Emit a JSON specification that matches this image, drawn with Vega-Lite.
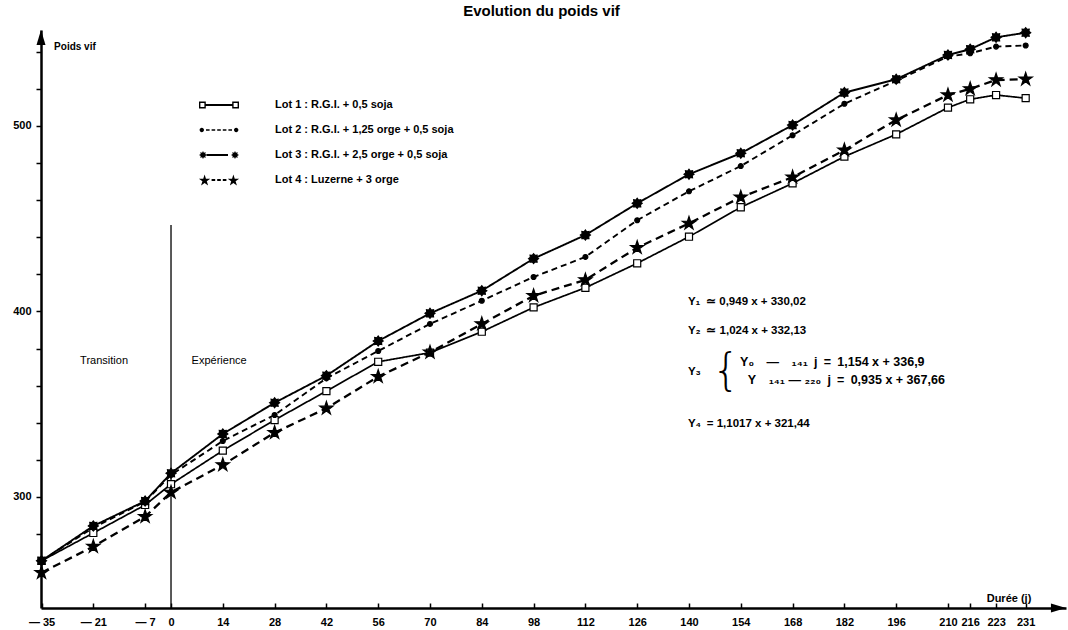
{
  "$schema": "https://vega.github.io/schema/vega-lite/v6.json",
  "autosize": {"type": "none"},
  "width": 1025,
  "height": 578,
  "padding": {"left": 41, "top": 30, "right": 2, "bottom": 22},
  "background": "white",
  "title": {
    "text": "Evolution du poids vif",
    "font": "Liberation Sans",
    "fontSize": 15,
    "fontWeight": "bold",
    "color": "black",
    "anchor": "middle",
    "dx": -12,
    "offset": 6
  },
  "config": {
    "view": {"stroke": null},
    "font": "Liberation Sans"
  },
  "datasets": {
    "poids": [
      {"lot": "Lot 1 : R.G.I. + 0,5 soja", "jour": -35, "poids": 265.6},
      {"lot": "Lot 1 : R.G.I. + 0,5 soja", "jour": -21, "poids": 280.6},
      {"lot": "Lot 1 : R.G.I. + 0,5 soja", "jour": -7, "poids": 295.7},
      {"lot": "Lot 1 : R.G.I. + 0,5 soja", "jour": 0, "poids": 306.9},
      {"lot": "Lot 1 : R.G.I. + 0,5 soja", "jour": 14, "poids": 325.0},
      {"lot": "Lot 1 : R.G.I. + 0,5 soja", "jour": 28, "poids": 341.5},
      {"lot": "Lot 1 : R.G.I. + 0,5 soja", "jour": 42, "poids": 357.1},
      {"lot": "Lot 1 : R.G.I. + 0,5 soja", "jour": 56, "poids": 372.9},
      {"lot": "Lot 1 : R.G.I. + 0,5 soja", "jour": 70, "poids": 377.8},
      {"lot": "Lot 1 : R.G.I. + 0,5 soja", "jour": 84, "poids": 389.1},
      {"lot": "Lot 1 : R.G.I. + 0,5 soja", "jour": 98, "poids": 402.2},
      {"lot": "Lot 1 : R.G.I. + 0,5 soja", "jour": 112, "poids": 412.8},
      {"lot": "Lot 1 : R.G.I. + 0,5 soja", "jour": 126, "poids": 426.0},
      {"lot": "Lot 1 : R.G.I. + 0,5 soja", "jour": 140, "poids": 440.3},
      {"lot": "Lot 1 : R.G.I. + 0,5 soja", "jour": 154, "poids": 456.2},
      {"lot": "Lot 1 : R.G.I. + 0,5 soja", "jour": 168, "poids": 469.1},
      {"lot": "Lot 1 : R.G.I. + 0,5 soja", "jour": 182, "poids": 483.5},
      {"lot": "Lot 1 : R.G.I. + 0,5 soja", "jour": 196, "poids": 495.5},
      {"lot": "Lot 1 : R.G.I. + 0,5 soja", "jour": 210, "poids": 509.9},
      {"lot": "Lot 1 : R.G.I. + 0,5 soja", "jour": 216, "poids": 514.4},
      {"lot": "Lot 1 : R.G.I. + 0,5 soja", "jour": 223, "poids": 516.7},
      {"lot": "Lot 1 : R.G.I. + 0,5 soja", "jour": 231, "poids": 515.0},
      {"lot": "Lot 2 : R.G.I. + 1,25 orge + 0,5 soja", "jour": -35, "poids": 265.6},
      {"lot": "Lot 2 : R.G.I. + 1,25 orge + 0,5 soja", "jour": -21, "poids": 283.5},
      {"lot": "Lot 2 : R.G.I. + 1,25 orge + 0,5 soja", "jour": -7, "poids": 297.5},
      {"lot": "Lot 2 : R.G.I. + 1,25 orge + 0,5 soja", "jour": 0, "poids": 311.9},
      {"lot": "Lot 2 : R.G.I. + 1,25 orge + 0,5 soja", "jour": 14, "poids": 330.2},
      {"lot": "Lot 2 : R.G.I. + 1,25 orge + 0,5 soja", "jour": 28, "poids": 344.2},
      {"lot": "Lot 2 : R.G.I. + 1,25 orge + 0,5 soja", "jour": 42, "poids": 364.0},
      {"lot": "Lot 2 : R.G.I. + 1,25 orge + 0,5 soja", "jour": 56, "poids": 378.7},
      {"lot": "Lot 2 : R.G.I. + 1,25 orge + 0,5 soja", "jour": 70, "poids": 393.3},
      {"lot": "Lot 2 : R.G.I. + 1,25 orge + 0,5 soja", "jour": 84, "poids": 405.8},
      {"lot": "Lot 2 : R.G.I. + 1,25 orge + 0,5 soja", "jour": 98, "poids": 418.6},
      {"lot": "Lot 2 : R.G.I. + 1,25 orge + 0,5 soja", "jour": 112, "poids": 429.4},
      {"lot": "Lot 2 : R.G.I. + 1,25 orge + 0,5 soja", "jour": 126, "poids": 449.2},
      {"lot": "Lot 2 : R.G.I. + 1,25 orge + 0,5 soja", "jour": 140, "poids": 464.8},
      {"lot": "Lot 2 : R.G.I. + 1,25 orge + 0,5 soja", "jour": 154, "poids": 478.4},
      {"lot": "Lot 2 : R.G.I. + 1,25 orge + 0,5 soja", "jour": 168, "poids": 495.0},
      {"lot": "Lot 2 : R.G.I. + 1,25 orge + 0,5 soja", "jour": 182, "poids": 512.0},
      {"lot": "Lot 2 : R.G.I. + 1,25 orge + 0,5 soja", "jour": 196, "poids": 524.4},
      {"lot": "Lot 2 : R.G.I. + 1,25 orge + 0,5 soja", "jour": 210, "poids": 537.4},
      {"lot": "Lot 2 : R.G.I. + 1,25 orge + 0,5 soja", "jour": 216, "poids": 539.2},
      {"lot": "Lot 2 : R.G.I. + 1,25 orge + 0,5 soja", "jour": 223, "poids": 542.8},
      {"lot": "Lot 2 : R.G.I. + 1,25 orge + 0,5 soja", "jour": 231, "poids": 543.4},
      {"lot": "Lot 3 : R.G.I. + 2,5 orge + 0,5 soja", "jour": -35, "poids": 265.6},
      {"lot": "Lot 3 : R.G.I. + 2,5 orge + 0,5 soja", "jour": -21, "poids": 284.4},
      {"lot": "Lot 3 : R.G.I. + 2,5 orge + 0,5 soja", "jour": -7, "poids": 297.8},
      {"lot": "Lot 3 : R.G.I. + 2,5 orge + 0,5 soja", "jour": 0, "poids": 312.8},
      {"lot": "Lot 3 : R.G.I. + 2,5 orge + 0,5 soja", "jour": 14, "poids": 334.0},
      {"lot": "Lot 3 : R.G.I. + 2,5 orge + 0,5 soja", "jour": 28, "poids": 350.8},
      {"lot": "Lot 3 : R.G.I. + 2,5 orge + 0,5 soja", "jour": 42, "poids": 365.4},
      {"lot": "Lot 3 : R.G.I. + 2,5 orge + 0,5 soja", "jour": 56, "poids": 384.1},
      {"lot": "Lot 3 : R.G.I. + 2,5 orge + 0,5 soja", "jour": 70, "poids": 399.0},
      {"lot": "Lot 3 : R.G.I. + 2,5 orge + 0,5 soja", "jour": 84, "poids": 411.2},
      {"lot": "Lot 3 : R.G.I. + 2,5 orge + 0,5 soja", "jour": 98, "poids": 428.5},
      {"lot": "Lot 3 : R.G.I. + 2,5 orge + 0,5 soja", "jour": 112, "poids": 441.2},
      {"lot": "Lot 3 : R.G.I. + 2,5 orge + 0,5 soja", "jour": 126, "poids": 458.3},
      {"lot": "Lot 3 : R.G.I. + 2,5 orge + 0,5 soja", "jour": 140, "poids": 474.0},
      {"lot": "Lot 3 : R.G.I. + 2,5 orge + 0,5 soja", "jour": 154, "poids": 485.3},
      {"lot": "Lot 3 : R.G.I. + 2,5 orge + 0,5 soja", "jour": 168, "poids": 500.5},
      {"lot": "Lot 3 : R.G.I. + 2,5 orge + 0,5 soja", "jour": 182, "poids": 518.0},
      {"lot": "Lot 3 : R.G.I. + 2,5 orge + 0,5 soja", "jour": 196, "poids": 525.2},
      {"lot": "Lot 3 : R.G.I. + 2,5 orge + 0,5 soja", "jour": 210, "poids": 538.3},
      {"lot": "Lot 3 : R.G.I. + 2,5 orge + 0,5 soja", "jour": 216, "poids": 541.4},
      {"lot": "Lot 3 : R.G.I. + 2,5 orge + 0,5 soja", "jour": 223, "poids": 547.8},
      {"lot": "Lot 3 : R.G.I. + 2,5 orge + 0,5 soja", "jour": 231, "poids": 550.3},
      {"lot": "Lot 4 : Luzerne + 3 orge", "jour": -35, "poids": 259.2},
      {"lot": "Lot 4 : Luzerne + 3 orge", "jour": -21, "poids": 273.3},
      {"lot": "Lot 4 : Luzerne + 3 orge", "jour": -7, "poids": 289.4},
      {"lot": "Lot 4 : Luzerne + 3 orge", "jour": 0, "poids": 302.5},
      {"lot": "Lot 4 : Luzerne + 3 orge", "jour": 14, "poids": 317.3},
      {"lot": "Lot 4 : Luzerne + 3 orge", "jour": 28, "poids": 334.7},
      {"lot": "Lot 4 : Luzerne + 3 orge", "jour": 42, "poids": 347.8},
      {"lot": "Lot 4 : Luzerne + 3 orge", "jour": 56, "poids": 364.9},
      {"lot": "Lot 4 : Luzerne + 3 orge", "jour": 70, "poids": 378.0},
      {"lot": "Lot 4 : Luzerne + 3 orge", "jour": 84, "poids": 393.3},
      {"lot": "Lot 4 : Luzerne + 3 orge", "jour": 98, "poids": 408.5},
      {"lot": "Lot 4 : Luzerne + 3 orge", "jour": 112, "poids": 417.0},
      {"lot": "Lot 4 : Luzerne + 3 orge", "jour": 126, "poids": 434.4},
      {"lot": "Lot 4 : Luzerne + 3 orge", "jour": 140, "poids": 447.5},
      {"lot": "Lot 4 : Luzerne + 3 orge", "jour": 154, "poids": 461.6},
      {"lot": "Lot 4 : Luzerne + 3 orge", "jour": 168, "poids": 472.4},
      {"lot": "Lot 4 : Luzerne + 3 orge", "jour": 182, "poids": 487.0},
      {"lot": "Lot 4 : Luzerne + 3 orge", "jour": 196, "poids": 503.2},
      {"lot": "Lot 4 : Luzerne + 3 orge", "jour": 210, "poids": 516.7},
      {"lot": "Lot 4 : Luzerne + 3 orge", "jour": 216, "poids": 520.0},
      {"lot": "Lot 4 : Luzerne + 3 orge", "jour": 223, "poids": 524.8},
      {"lot": "Lot 4 : Luzerne + 3 orge", "jour": 231, "poids": 525.2}
    ],
    "separation": [
      {"jour": 0, "poids": 240.16, "haut": 446.6}
    ],
    "fleche_y": [
      {"jour": -35.14, "poids": 547.7}
    ],
    "fleche_x": [
      {"jour": 239.86, "poids": 240.16}
    ],
    "equations": [
      {"jour": 139.7, "poids": 405.1, "texte": "Y₁\u2002≃ 0,949 x + 330,02"},
      {"jour": 139.7, "poids": 389.5, "texte": "Y₂\u2002≃ 1,024 x + 332,13"},
      {"jour": 139.7, "poids": 367.4, "texte": "Y₃"},
      {"jour": 139.7, "poids": 339.4, "texte": "Y₄\u2002= 1,1017 x + 321,44"}
    ],
    "equations_y3": [
      {"jour": 153.8, "poids": 372.8, "texte": "Y₀\u2003—\u2003₁₄₁\u2002j\u2002=\u20021,154 x + 336,9"},
      {"jour": 155.9, "poids": 363.1, "texte": "Y\u2003₁₄₁ — ₂₂₀\u2002j\u2002=\u20020,935 x + 367,66"}
    ],
    "accolade": [
      {"jour": 150.0, "poids": 367.6, "texte": "{"}
    ],
    "phases": [
      {"jour": -18.1, "poids": 373.3, "texte": "Transition"},
      {"jour": 13.0, "poids": 373.3, "texte": "Expérience"}
    ],
    "titre_y": [
      {"jour": -31.6, "poids": 542.6, "texte": "Poids vif"}
    ],
    "titre_x": [
      {"jour": 226.5, "poids": 245.0, "texte": "Durée (j)"}
    ]
  },
  "layer": [
    {
      "data": {"name": "poids"},
      "mark": {"type": "line", "color": "black"},
      "encoding": {
        "x": {
          "field": "jour",
          "type": "quantitative",
          "scale": {"domain": [-35.14, 241.9], "nice": false, "zero": false},
          "axis": {
            "title": null,
            "grid": false,
            "values": [-35, -21, -7, 0, 14, 28, 42, 56, 70, 84, 98, 112, 126, 140, 154, 168, 182, 196, 210, 216, 223, 231],
            "labelExpr": "datum.value < 0 ? '— ' + (-datum.value) : datum.label",
            "domainColor": "black",
            "domainWidth": 2.5,
            "tickColor": "black",
            "tickWidth": 1.5,
            "tickSize": -5,
            "labelPadding": 13,
            "labelColor": "black",
            "labelFont": "Liberation Sans",
            "labelFontWeight": "bold",
            "labelFontSize": 11,
            "labelOverlap": false,
            "labelFlush": false,
            "labelBound": false
          }
        },
        "y": {
          "field": "poids",
          "type": "quantitative",
          "scale": {"domain": [240.16, 551.75], "nice": false, "zero": false},
          "axis": {
            "title": null,
            "grid": false,
            "values": [260, 280, 300, 320, 340, 360, 380, 400, 420, 440, 460, 480, 500, 520, 540],
            "labelExpr": "datum.value % 100 === 0 ? datum.label : ''",
            "domainColor": "black",
            "domainWidth": 2.5,
            "tickColor": "black",
            "tickWidth": 1.5,
            "tickSize": 5,
            "labelPadding": 5,
            "labelColor": "black",
            "labelFont": "Liberation Sans",
            "labelFontWeight": "bold",
            "labelFontSize": 11
          }
        },
        "strokeDash": {
          "field": "lot",
          "type": "nominal",
          "scale": {"range": [[1, 0], [6, 4], [1, 0], [8, 5]]},
          "legend": null
        },
        "strokeWidth": {
          "field": "lot",
          "type": "nominal",
          "scale": {"type": "ordinal", "range": [1.7, 1.9, 1.9, 2.3]},
          "legend": null
        }
      }
    },
    {
      "data": {"name": "separation"},
      "mark": {"type": "rule", "color": "black", "strokeWidth": 1.3},
      "encoding": {
        "x": {"field": "jour", "type": "quantitative"},
        "y": {"field": "poids", "type": "quantitative"},
        "y2": {"field": "haut"}
      }
    },
    {
      "data": {"name": "poids"},
      "mark": {"type": "point", "filled": true, "stroke": "black", "strokeWidth": 1.2, "opacity": 1},
      "encoding": {
        "x": {"field": "jour", "type": "quantitative"},
        "y": {"field": "poids", "type": "quantitative"},
        "shape": {
          "field": "lot",
          "type": "nominal",
          "scale": {"range": [
            "square",
            "circle",
            "M1,0L0.647,0.268L0.707,0.707L0.268,0.647L0,1L-0.268,0.647L-0.707,0.707L-0.647,0.268L-1,0L-0.647,-0.268L-0.707,-0.707L-0.268,-0.647L0,-1L0.268,-0.647L0.707,-0.707L0.647,-0.268Z",
            "M0,-1L0.2245,-0.309L0.9511,-0.309L0.3633,0.118L0.5878,0.809L0,0.382L-0.5878,0.809L-0.3633,0.118L-0.9511,-0.309L-0.2245,-0.309Z"
          ]},
          "legend": null
        },
        "size": {
          "field": "lot",
          "type": "nominal",
          "scale": {"type": "ordinal", "range": [50, 24, 100, 190]},
          "legend": null
        },
        "fill": {
          "field": "lot",
          "type": "nominal",
          "scale": {"range": ["white", "black", "black", "black"]},
          "legend": null
        }
      }
    },
    {
      "data": {"name": "poids"},
      "mark": {"type": "point", "filled": true, "color": "black", "opacity": 0},
      "encoding": {
        "x": {"field": "jour", "type": "quantitative"},
        "y": {"field": "poids", "type": "quantitative"},
        "shape": {
          "field": "lot",
          "type": "nominal",
          "scale": {"range": [
            "M-1,-0.17H-0.66V0.17H-1Z M-0.93,-0.1V0.1H-0.73V-0.1Z M-0.66,-0.045H0.66V0.045H-0.66Z M0.66,-0.17H1V0.17H0.66Z M0.73,-0.1V0.1H0.93V-0.1Z",
            "M-0.97,0A0.11,0.11 0 1,0 -0.75,0A0.11,0.11 0 1,0 -0.97,0Z M0.75,0A0.11,0.11 0 1,0 0.97,0A0.11,0.11 0 1,0 0.75,0Z M-0.65,-0.04H-0.47V0.04H-0.65Z M-0.37,-0.04H-0.19V0.04H-0.37Z M-0.09,-0.04H0.09V0.04H-0.09Z M0.19,-0.04H0.37V0.04H0.19Z M0.47,-0.04H0.65V0.04H0.47Z",
            "M-0.6,0L-0.6891,0.0459L-0.6586,0.1414L-0.7541,0.1109L-0.8,0.2L-0.8459,0.1109L-0.9414,0.1414L-0.9109,0.0459L-1,0L-0.9109,-0.0459L-0.9414,-0.1414L-0.8459,-0.1109L-0.8,-0.2L-0.7541,-0.1109L-0.6586,-0.1414L-0.6891,-0.0459Z M-0.62,-0.045H0.45V0.045H-0.62Z M1,0L0.9109,0.0459L0.9414,0.1414L0.8459,0.1109L0.8,0.2L0.7541,0.1109L0.6586,0.1414L0.6891,0.0459L0.6,0L0.6891,-0.0459L0.6586,-0.1414L0.7541,-0.1109L0.8,-0.2L0.8459,-0.1109L0.9414,-0.1414L0.9109,-0.0459Z",
            "M-0.72,-0.27L-0.6526,-0.0627L-0.4347,-0.0627L-0.611,0.0654L-0.5437,0.2727L-0.72,0.1446L-0.8963,0.2727L-0.829,0.0654L-1.0053,-0.0627L-0.7874,-0.0627Z M-0.37,-0.045H-0.19V0.045H-0.37Z M-0.09,-0.045H0.09V0.045H-0.09Z M0.19,-0.045H0.37V0.045H0.19Z M0.72,-0.27L0.7874,-0.0627L1.0053,-0.0627L0.829,0.0654L0.8963,0.2727L0.72,0.1446L0.5437,0.2727L0.611,0.0654L0.4347,-0.0627L0.6526,-0.0627Z"
          ]},
          "legend": {
            "title": null,
            "orient": "none",
            "legendX": 158,
            "legendY": 55,
            "padding": 0,
            "symbolSize": 1600,
            "symbolOpacity": 1,
            "symbolFillColor": "black",
            "symbolStrokeWidth": 0,
            "labelOffset": 36,
            "labelFont": "Liberation Sans",
            "labelFontSize": 11,
            "labelFontWeight": "bold",
            "labelColor": "black",
            "labelLimit": 0,
            "rowPadding": -4.5
          }
        }
      }
    },
    {
      "data": {"name": "equations"},
      "mark": {"type": "text", "align": "left", "baseline": "middle", "font": "Liberation Sans", "fontSize": 11.5, "fontWeight": "bold", "color": "black"},
      "encoding": {
        "x": {"field": "jour", "type": "quantitative"},
        "y": {"field": "poids", "type": "quantitative"},
        "text": {"field": "texte"}
      }
    },
    {
      "data": {"name": "equations_y3"},
      "mark": {"type": "text", "align": "left", "baseline": "middle", "font": "Liberation Sans", "fontSize": 12.5, "fontWeight": "bold", "color": "black"},
      "encoding": {
        "x": {"field": "jour", "type": "quantitative"},
        "y": {"field": "poids", "type": "quantitative"},
        "text": {"field": "texte"}
      }
    },
    {
      "data": {"name": "accolade"},
      "mark": {"type": "text", "align": "center", "baseline": "middle", "font": "DejaVu Sans", "fontSize": 44, "fontWeight": 200, "color": "black"},
      "encoding": {
        "x": {"field": "jour", "type": "quantitative"},
        "y": {"field": "poids", "type": "quantitative"},
        "text": {"field": "texte"}
      }
    },
    {
      "data": {"name": "phases"},
      "mark": {"type": "text", "align": "center", "baseline": "middle", "font": "Liberation Sans", "fontSize": 11, "color": "black"},
      "encoding": {
        "x": {"field": "jour", "type": "quantitative"},
        "y": {"field": "poids", "type": "quantitative"},
        "text": {"field": "texte"}
      }
    },
    {
      "data": {"name": "titre_y"},
      "mark": {"type": "text", "align": "left", "baseline": "middle", "font": "Liberation Sans", "fontSize": 10, "fontWeight": "bold", "color": "black"},
      "encoding": {
        "x": {"field": "jour", "type": "quantitative"},
        "y": {"field": "poids", "type": "quantitative"},
        "text": {"field": "texte"}
      }
    },
    {
      "data": {"name": "titre_x"},
      "mark": {"type": "text", "align": "center", "baseline": "middle", "font": "Liberation Sans", "fontSize": 11, "fontWeight": "bold", "color": "black"},
      "encoding": {
        "x": {"field": "jour", "type": "quantitative"},
        "y": {"field": "poids", "type": "quantitative"},
        "text": {"field": "texte"}
      }
    },
    {
      "data": {"name": "fleche_y"},
      "mark": {"type": "point", "filled": true, "color": "black", "opacity": 1, "size": 225, "shape": "M0,-1L0.6,1L-0.6,1Z"},
      "encoding": {
        "x": {"field": "jour", "type": "quantitative"},
        "y": {"field": "poids", "type": "quantitative"}
      }
    },
    {
      "data": {"name": "fleche_x"},
      "mark": {"type": "point", "filled": true, "color": "black", "opacity": 1, "size": 225, "shape": "M1,0L-1,-0.6L-1,0.6Z"},
      "encoding": {
        "x": {"field": "jour", "type": "quantitative"},
        "y": {"field": "poids", "type": "quantitative"}
      }
    }
  ],
  "resolve": {"scale": {"shape": "independent", "size": "independent", "fill": "independent"}}
}
